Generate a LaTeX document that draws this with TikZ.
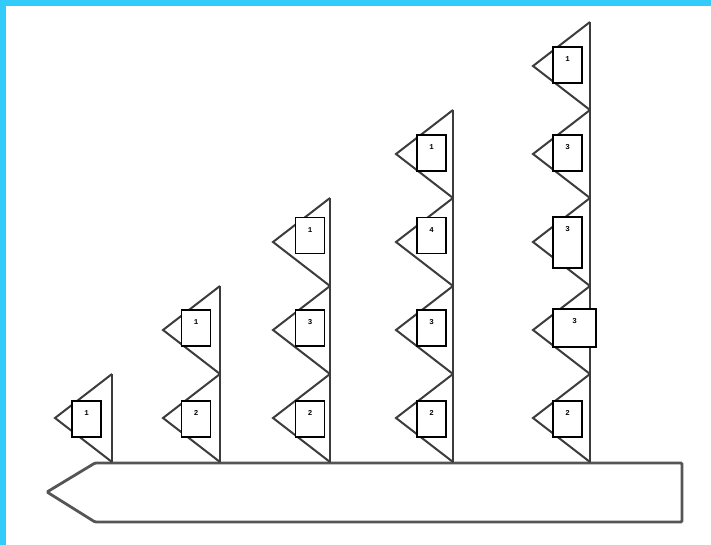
\documentclass[tikz,border=0pt]{standalone}
\usepackage{fontspec}
\newfontfamily\lblfont{Liberation Mono}
\definecolor{skyb}{RGB}{51,204,250}
\definecolor{linegray}{RGB}{60,60,60}
\definecolor{basegray}{RGB}{85,85,85}
\begin{document}
\begin{tikzpicture}[x=1pt,y=-1pt,
  mastline/.style={draw=linegray,line width=2.2pt},
  flagline/.style={draw=linegray,line width=2pt,line join=miter},
  flagbox/.style={draw=black,fill=white,line width=1.6pt,minimum width=29pt,minimum height=36pt,inner sep=0pt},
  lbl/.style={font=\lblfont\bfseries\fontsize{7.5}{7.5}\selectfont,inner sep=0pt},
  hull/.style={draw=basegray,fill=white,line width=2.8pt,rounded corners=1.2pt}]
\useasboundingbox (0,0) rectangle (711,545);
\fill[white] (0,0) rectangle (711,545);
\fill[skyb] (0,0) rectangle (711,6);
\fill[skyb] (0,0) rectangle (6,545);
% hull
\draw[hull] (95,463) -- (682,463) -- (682,522) -- (95,522) -- (47,492) -- cycle;
% masts and flags
\foreach \i/\x/\n in {1/112/1, 2/220/2, 3/330/3, 4/453/4, 5/590/5} {
  \coordinate (foot\i) at (\x,462);
  \coordinate (top\i) at (\x,{462-88*\n});
  \foreach \k in {1,...,\n} {
    \coordinate (apex\i-\k) at ({\x-57},{462-88*\k+44});
    \coordinate (up\i-\k) at (\x,{462-88*\k});
    \coordinate (dn\i-\k) at (\x,{462-88*(\k-1)});
    \draw[flagline] (up\i-\k) -- (apex\i-\k) -- (dn\i-\k);
  }
  \draw[mastline] (foot\i) -- (top\i);
}
% boxes: mast/row/centre x/centre y/text
\foreach \i/\k/\cx/\cy/\t in {
  1/1/86.5/419/1,
  2/1/196/419/2, 2/2/196/328/1,
  3/1/310/419/2, 3/2/310/328/3, 3/3/310/235.5/1,
  4/1/431.5/419/2, 4/2/431.5/328/3, 4/3/431.5/235.5/4, 4/4/431.5/153/1,
  5/1/567.5/419/2, 5/4/567.5/153/3, 5/5/567.5/65/1} {
  \node[flagbox] (box\i-\k) at (\cx,\cy) {};
  \node[lbl] (txt\i-\k) at ([yshift=-13pt]box\i-\k.north) {\t};
}
\node[flagbox,minimum height=51pt] (box5-3) at (567.5,242.5) {};
\node[lbl] (txt5-3) at ([yshift=-13pt]box5-3.north) {3};
\node[flagbox,minimum width=43pt,minimum height=38pt] (box5-2) at (574.5,328) {};
\node[lbl] (txt5-2) at ([yshift=-13pt]box5-2.north) {3};
\end{tikzpicture}
\end{document}
